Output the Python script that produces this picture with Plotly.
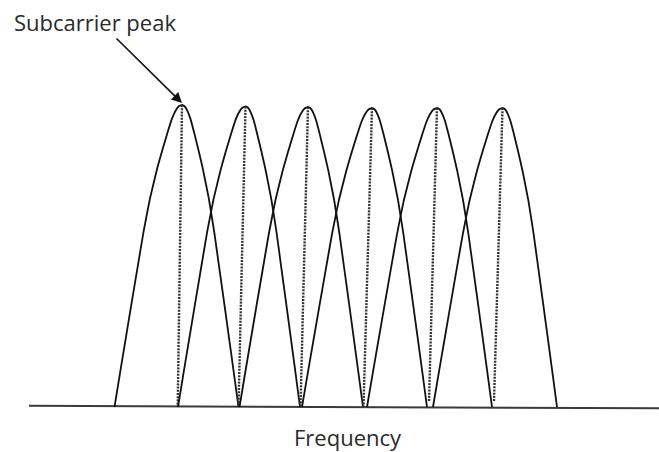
import plotly.graph_objects as go

# Subcarrier lobes (x in px-like frequency units, amplitude above the baseline)
peak_x = [182.0, 245.5, 308, 372, 437, 502.5]
peak_amp = [302, 300.5, 300, 299, 299, 299]
left_base_x = [114.5, 178, 239.5, 302, 367, 433]
right_base_x = [238.5, 300, 363, 427, 492, 557]
# lobe profile: distance from peak (fraction of half-width) -> height fraction
profile_u = [0, 0.05, 0.1, 0.15, 0.21, 0.29, 0.365, 0.475, 0.57, 0.66, 0.75, 0.835, 0.92, 1.0]
profile_h = [1, 0.995, 0.979, 0.954, 0.912, 0.852, 0.792, 0.69, 0.58, 0.46, 0.34, 0.225, 0.11, 0]
# dotted peak markers (from peak down to these points)
dash_bottom_x = [177.7, 238.5, 300.5, 363.5, 429, 494]
dash_bottom_amp = [0, 0, 0, 0, 5, 6]
# frequency axis line
baseline_x = [29, 659]
baseline_amp = [1.3, -1.3]

FONT = "Open Sans"

fig = go.Figure()

fig.add_trace(go.Scatter(x=baseline_x, y=baseline_amp, mode="lines",
                         line=dict(color="#3a3a3a", width=2), hoverinfo="skip"))

for px, pa, lb, rb, dbx, dba in zip(peak_x, peak_amp, left_base_x, right_base_x,
                                    dash_bottom_x, dash_bottom_amp):
    lw = px - lb
    rw = rb - px
    xs = [px - u * lw for u in reversed(profile_u)] + [px + u * rw for u in profile_u[1:]]
    ys = [h * pa for h in reversed(profile_h)] + [h * pa for h in profile_h[1:]]
    fig.add_trace(go.Scatter(x=xs, y=ys, mode="lines",
                             line=dict(color="#111111", width=1.8, shape="spline", smoothing=0.3),
                             hoverinfo="skip"))
    fig.add_trace(go.Scatter(x=[px, dbx], y=[pa, dba], mode="lines",
                             line=dict(color="#333333", width=2.4, dash="2px,1.2px"),
                             hoverinfo="skip"))

fig.add_annotation(x=peak_x[0], y=peak_amp[0] + 2, ax=115, ay=370, axref="x", ayref="y",
                   xref="x", yref="y", text="", showarrow=True, arrowhead=2,
                   arrowsize=1.3, arrowwidth=1.6, arrowcolor="#111111", standoff=0)
fig.add_annotation(x=12, y=385, xref="x", yref="y", text="Subcarrier peak", showarrow=False,
                   xanchor="left", yanchor="middle",
                   font=dict(family=FONT, size=22, color="#2a2a2a"))
fig.add_annotation(x=348, y=-30, xref="x", yref="y", text="Frequency", showarrow=False,
                   xanchor="center", yanchor="middle",
                   font=dict(family=FONT, size=22, color="#2a2a2a"))

fig.update_layout(width=659, height=452, autosize=False,
                  margin=dict(l=0, r=0, t=0, b=0),
                  paper_bgcolor="white", plot_bgcolor="white", showlegend=False)
fig.update_xaxes(range=[0, 659], visible=False)
fig.update_yaxes(range=[-45, 407], visible=False)

fig.write_html("out.html", config={"displayModeBar": False},
               post_script="document.body.style.margin='0';document.body.style.overflow='hidden';")
